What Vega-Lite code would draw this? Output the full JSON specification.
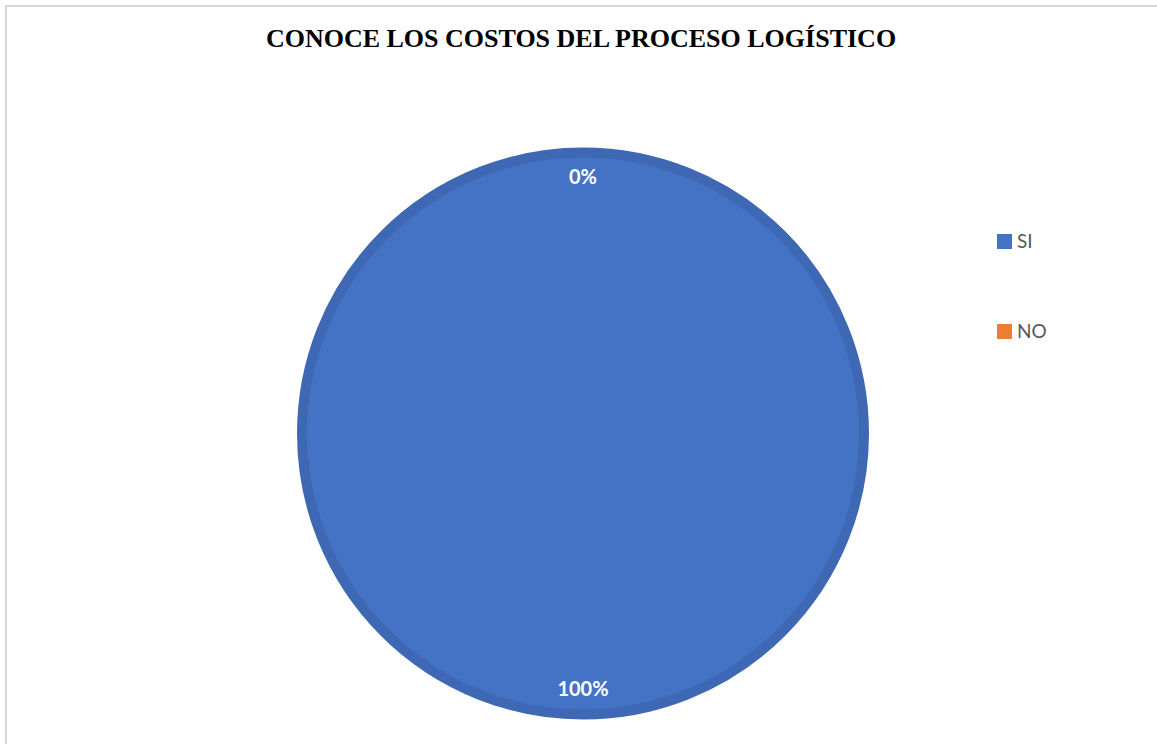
{
  "$schema": "https://vega.github.io/schema/vega-lite/v6.json",
  "autosize": {"type": "none"},
  "padding": {"left": 6, "top": 6, "right": 0, "bottom": 0},
  "width": 1154,
  "height": 855,
  "background": "white",
  "title": {
    "text": "CONOCE LOS COSTOS DEL PROCESO LOGÍSTICO",
    "font": "Liberation Serif",
    "fontSize": 26,
    "fontWeight": "bold",
    "color": "#000000",
    "anchor": "middle",
    "frame": "group",
    "baseline": "alphabetic",
    "offset": -68,
    "dx": -2
  },
  "data": {
    "values": [
      {"cat": "SI", "pct": 100, "label": "100%"},
      {"cat": "NO", "pct": 0, "label": "0%"}
    ]
  },
  "layer": [
    {
      "mark": {"type": "rect", "fill": "transparent", "stroke": "#D4D4D4", "strokeWidth": 1.5},
      "encoding": {}
    },
    {
      "mark": {"type": "arc", "radius": 281, "strokeWidth": 10},
      "encoding": {
        "theta": {"field": "pct", "type": "quantitative", "stack": true},
        "order": {"field": "cat", "sort": "descending"},
        "color": {
          "field": "cat",
          "type": "nominal",
          "sort": ["SI", "NO"],
          "scale": {"domain": ["SI", "NO"], "range": ["#4472C4", "#ED7D31"]},
          "legend": {
            "title": null,
            "orient": "none",
            "legendX": 989,
            "legendY": 226,
            "symbolType": "square",
            "symbolSize": 225,
            "symbolStrokeWidth": 0,
            "labelFont": "Lato",
            "labelFontSize": 19,
            "labelColor": "#595959",
            "labelOffset": 3,
            "rowPadding": 70
          }
        },
        "stroke": {
          "field": "cat",
          "type": "nominal",
          "scale": {"domain": ["SI", "NO"], "range": ["#3E67B4", "transparent"]},
          "legend": null
        }
      }
    },
    {
      "mark": {"type": "text", "radius": 256, "font": "Lato", "fontSize": 20, "fontWeight": "bold", "color": "white", "baseline": "middle", "align": "center"},
      "encoding": {
        "theta": {"field": "pct", "type": "quantitative", "stack": true},
        "order": {"field": "cat", "sort": "descending"},
        "text": {"field": "label", "type": "nominal"}
      }
    }
  ]
}
